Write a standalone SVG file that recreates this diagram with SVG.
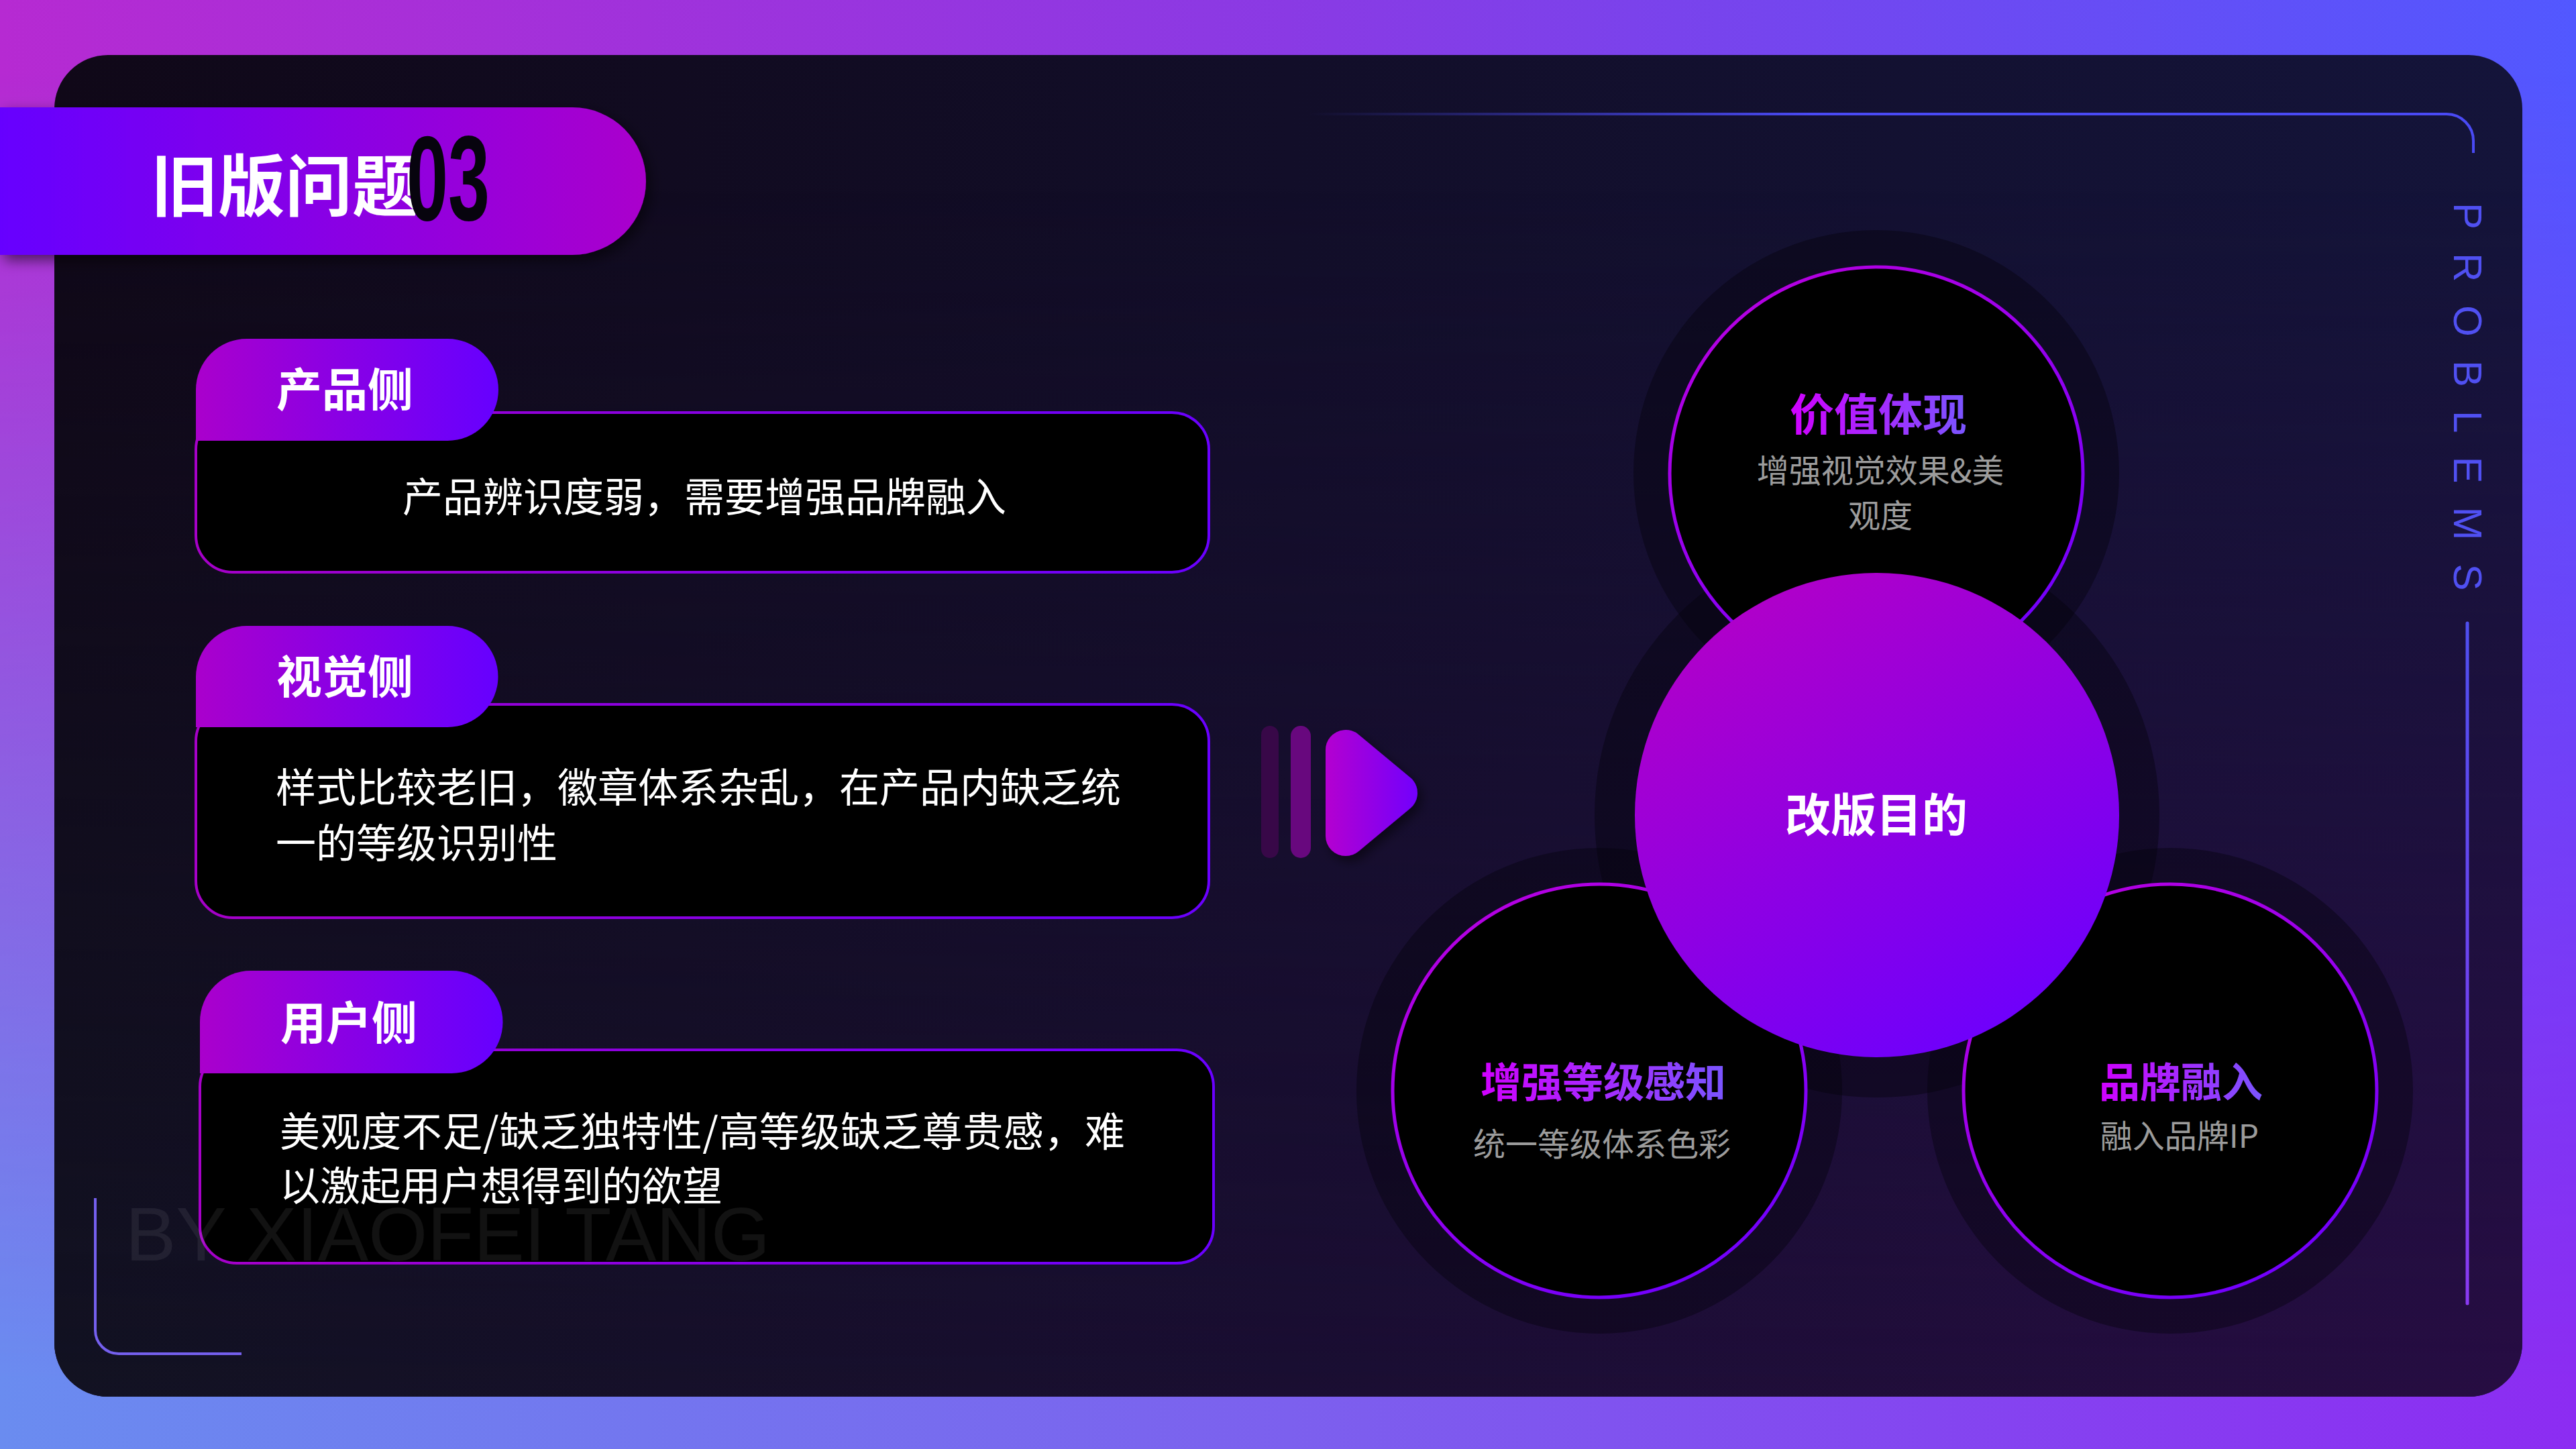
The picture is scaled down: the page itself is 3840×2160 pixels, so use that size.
<svg xmlns="http://www.w3.org/2000/svg" width="3840" height="2160" viewBox="0 0 3840 2160">
<defs>
<style>
.cjk{font-family:"Noto Sans CJK SC","Noto Sans",sans-serif}
.tab{font-family:"Noto Sans CJK SC",sans-serif;font-weight:700;font-size:68px;fill:#fff;text-anchor:middle}
.body{font-family:"Noto Sans CJK SC",sans-serif;font-weight:400;font-size:60px;fill:#fff}
.ctitle{font-family:"Noto Sans CJK SC",sans-serif;font-weight:700;fill:url(#tg);text-anchor:middle}
.csub{font-family:"Noto Sans CJK SC",sans-serif;font-weight:400;font-size:48px;fill:#9c9c9c;text-anchor:middle}
.ring{fill:#000;stroke:url(#ringG);stroke-width:5}
.halo{fill:#04020c;fill-opacity:0.42}
.box{fill:#000;stroke:url(#cardG);stroke-width:4}
.tabbg{fill:url(#tabG)}
</style>
<linearGradient id="bgTop" x1="0" y1="0" x2="3840" y2="0" gradientUnits="userSpaceOnUse"><stop offset="0" stop-color="#b62ad2"/><stop offset="0.5" stop-color="#8a3ae4"/><stop offset="1" stop-color="#5258ff"/></linearGradient>
<linearGradient id="bgBot" x1="0" y1="0" x2="3840" y2="0" gradientUnits="userSpaceOnUse"><stop offset="0" stop-color="#6a8cf0"/><stop offset="0.5" stop-color="#7c60ee"/><stop offset="1" stop-color="#8c2cf2"/></linearGradient>
<linearGradient id="vmask" x1="0" y1="0" x2="0" y2="2160" gradientUnits="userSpaceOnUse"><stop offset="0.05" stop-color="#000"/><stop offset="0.95" stop-color="#fff"/></linearGradient>
<mask id="mBot"><rect width="3840" height="2160" fill="url(#vmask)"/></mask>
<linearGradient id="pTop" x1="81" y1="0" x2="3760" y2="0" gradientUnits="userSpaceOnUse"><stop offset="0" stop-color="#100818"/><stop offset="1" stop-color="#14143a"/></linearGradient>
<linearGradient id="pBot" x1="81" y1="0" x2="3760" y2="0" gradientUnits="userSpaceOnUse"><stop offset="0" stop-color="#121222"/><stop offset="0.5" stop-color="#1a0e32"/><stop offset="1" stop-color="#270d43"/></linearGradient>
<linearGradient id="pmask" x1="0" y1="82" x2="0" y2="2082" gradientUnits="userSpaceOnUse"><stop offset="0.1" stop-color="#000"/><stop offset="1" stop-color="#fff"/></linearGradient>
<mask id="mPanel"><rect width="3840" height="2160" fill="url(#pmask)"/></mask>
<linearGradient id="titleG" x1="0" y1="0" x2="1" y2="0"><stop offset="0" stop-color="#6600ff"/><stop offset="1" stop-color="#aa00cc"/></linearGradient>
<linearGradient id="tabG" x1="0" y1="0" x2="1" y2="0"><stop offset="0" stop-color="#aa00cc"/><stop offset="1" stop-color="#6600ff"/></linearGradient>
<linearGradient id="cardG" x1="0" y1="0" x2="1" y2="0"><stop offset="0" stop-color="#a600c8"/><stop offset="1" stop-color="#6a00ff"/></linearGradient>
<linearGradient id="ringG" x1="0.2" y1="0" x2="0.8" y2="1"><stop offset="0" stop-color="#b800e0"/><stop offset="1" stop-color="#6e00ff"/></linearGradient>
<linearGradient id="centerG" x1="0.2" y1="0" x2="0.8" y2="1"><stop offset="0" stop-color="#b400c6"/><stop offset="1" stop-color="#6a00ff"/></linearGradient>
<linearGradient id="tg" x1="0" y1="0" x2="1" y2="0"><stop offset="0" stop-color="#d000ff"/><stop offset="1" stop-color="#7a55ff"/></linearGradient>
<linearGradient id="playG" x1="1976" y1="0" x2="2121" y2="0" gradientUnits="userSpaceOnUse"><stop offset="0" stop-color="#b400d0"/><stop offset="1" stop-color="#6e00ff"/></linearGradient>
<linearGradient id="topLineG" x1="1950" y1="0" x2="2700" y2="0" gradientUnits="userSpaceOnUse"><stop offset="0" stop-color="#4a4af5" stop-opacity="0"/><stop offset="1" stop-color="#4a4af5"/></linearGradient>
<linearGradient id="vLineG" x1="0" y1="929" x2="0" y2="1943" gradientUnits="userSpaceOnUse"><stop offset="0" stop-color="#4f4ff0"/><stop offset="1" stop-color="#8a3af2"/></linearGradient>
<filter id="shadow" x="-10%" y="-20%" width="130%" height="150%"><feDropShadow dx="6" dy="8" stdDeviation="10" flood-color="#000" flood-opacity="0.55"/></filter>
<filter id="pshadow" filterUnits="userSpaceOnUse" x="1900" y="1020" width="300" height="320"><feDropShadow dx="6" dy="8" stdDeviation="8" flood-color="#000" flood-opacity="0.5"/></filter>
</defs>

<!-- outer background -->
<rect width="3840" height="2160" fill="url(#bgTop)"/>
<rect width="3840" height="2160" fill="url(#bgBot)" mask="url(#mBot)"/>

<!-- dark panel -->
<rect x="81" y="82" width="3679" height="2000" rx="80" fill="url(#pTop)"/>
<rect x="81" y="82" width="3679" height="2000" rx="80" fill="url(#pBot)" mask="url(#mPanel)"/>

<!-- decorative lines -->
<path d="M1950,170 H3647 A40,40 0 0 1 3687,210 V228" fill="none" stroke="url(#topLineG)" stroke-width="4"/>
<line x1="3678" y1="929" x2="3678" y2="1943" stroke="url(#vLineG)" stroke-width="5" stroke-linecap="round"/>
<path d="M142,1786 V1983 A35,35 0 0 0 177,2018 H360" fill="none" stroke="#7560ee" stroke-width="4"/>
<text transform="translate(3658,302) rotate(90)" font-family="'Liberation Sans',sans-serif" font-size="60" letter-spacing="35" fill="#5050f2">PROBLEMS</text>

<!-- title -->
<g id="title">
<path d="M0,160 H853 A110,110 0 0 1 853,380 H0 Z" fill="url(#titleG)" filter="url(#shadow)"/>
<text x="225" y="314" class="cjk" font-size="100" font-weight="700" fill="#fff">旧版问题</text>
<text x="606" y="328" font-family="'Liberation Sans',sans-serif" font-size="180" font-weight="700" fill="#07040e" textLength="124" lengthAdjust="spacingAndGlyphs">03</text>
</g>

<!-- card 1 -->
<g id="card-product">
<rect class="box" x="292" y="615" width="1510" height="238" rx="55"/>
<path class="tabbg" d="M292,657 V581 A76,76 0 0 1 368,505 H667 A76,76 0 0 1 667,657 Z"/>
<text class="tab" x="514" y="606">产品侧</text>
<text class="body" x="1050" y="763" text-anchor="middle">产品辨识度弱，需要增强品牌融入</text>
</g>

<!-- card 2 -->
<g id="card-visual">
<rect class="box" x="292" y="1050" width="1510" height="318" rx="55"/>
<path class="tabbg" d="M292,1084 V1009 A76,76 0 0 1 368,933 H667 A75.5,75.5 0 0 1 667,1084 Z"/>
<text class="tab" x="514" y="1034">视觉侧</text>
<text class="body" x="411" y="1196">样式比较老旧，徽章体系杂乱，在产品内缺乏统</text>
<text class="body" x="411" y="1279">一的等级识别性</text>
</g>

<!-- card 3 -->
<g id="card-user">
<rect class="box" x="298" y="1565" width="1511" height="318" rx="55"/>
<path class="tabbg" d="M298,1600 V1523 A76,76 0 0 1 374,1447 H673 A76.5,76.5 0 0 1 673,1600 Z"/>
<text class="tab" x="520" y="1550">用户侧</text>
<text class="body" x="417" y="1709" textLength="1260" lengthAdjust="spacing">美观度不足/缺乏独特性/高等级缺乏尊贵感，难</text>
<text class="body" x="417" y="1790">以激起用户想得到的欲望</text>
</g>

<!-- watermark -->
<text x="187" y="1879" font-family="'Liberation Sans',sans-serif" font-size="113" fill="#ffffff" fill-opacity="0.07">BY XIAOFEI TANG</text>

<!-- connector: play arrow -->
<g id="connectors">
<rect x="1880" y="1082" width="26" height="197" rx="13" fill="#380848"/>
<rect x="1924" y="1082" width="30" height="197" rx="15" fill="#68087e"/>
<path d="M2006,1118 L2006,1246 L2083,1182 Z" fill="url(#playG)" stroke="url(#playG)" stroke-width="60" stroke-linejoin="round" filter="url(#pshadow)"/>
</g>

<!-- halos -->
<g id="halos">
<circle class="halo" cx="2797" cy="705" r="362"/>
<circle class="halo" cx="2384" cy="1626" r="362"/>
<circle class="halo" cx="3235" cy="1626" r="362"/>
<circle class="halo" cx="2798" cy="1215" r="421"/>
</g>

<g id="node-value">
<circle class="ring" cx="2797" cy="706" r="308"/>
<text class="ctitle" x="2800" y="642" font-size="66">价值体现</text>
<text class="csub" x="2803" y="719">增强视觉效果&amp;美</text>
<text class="csub" x="2803" y="786">观度</text>
</g>

<g id="node-level">
<circle class="ring" cx="2384" cy="1626" r="308"/>
<text class="ctitle" x="2390" y="1636" font-size="61">增强等级感知</text>
<text class="csub" x="2388" y="1723">统一等级体系色彩</text>
</g>

<g id="node-brand">
<circle class="ring" cx="3235" cy="1626" r="308"/>
<text class="ctitle" x="3251" y="1636" font-size="61">品牌融入</text>
<text class="csub" x="3249" y="1711">融入品牌IP</text>
</g>

<g id="node-goal">
<circle cx="2798" cy="1215" r="361" fill="url(#centerG)"/>
<text x="2797" y="1240" class="cjk" font-size="68" font-weight="700" fill="#fff" text-anchor="middle">改版目的</text>
</g>
</svg>
